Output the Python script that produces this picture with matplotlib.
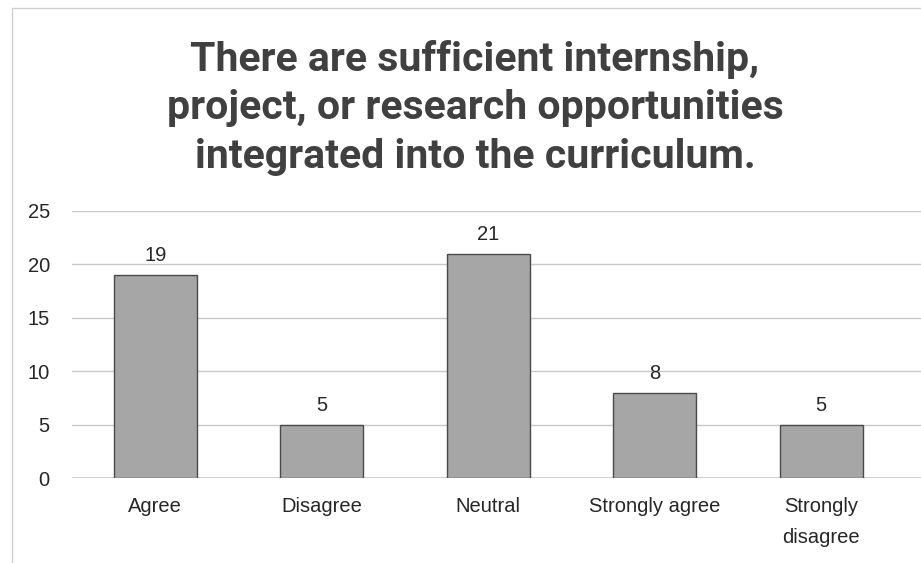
import matplotlib
matplotlib.use('Agg')
import matplotlib.pyplot as plt
from matplotlib.patches import Rectangle

categories = ["Agree", "Disagree", "Neutral", "Strongly agree", "Strongly\ndisagree"]
counts = [19, 5, 21, 8, 5]
yticks = [0, 5, 10, 15, 20, 25]
title = ("There are sufficient internship,\n"
         "project, or research opportunities\n"
         "integrated into the curriculum.")

fig = plt.figure(figsize=(9.21, 5.63), dpi=100)
fig.patch.set_facecolor("white")

# faint outer frame of the chart object
fig.patches.append(Rectangle((12 / 921, -0.1), 1.0, 1.1 - 8 / 563,
                             transform=fig.transFigure, fill=False,
                             edgecolor="#d0d0d0", linewidth=1.0))

ax = fig.add_axes([72 / 921, (563 - 478) / 563, (921 - 72) / 921, (478 - 211) / 563])
x = range(len(categories))
ax.bar(x, counts, width=0.5, color="#a6a6a6", edgecolor="#4a4a4a", linewidth=1.0, zorder=3)
for xi, v in zip(x, counts):
    ax.text(xi, v + 0.9, str(v), ha="center", va="bottom", fontsize=14.5,
            color="#262626", family="Liberation Sans")

ax.set_ylim(0, 25)
ax.set_xlim(-0.5, 4.6)
ax.set_yticks(yticks)
ax.set_xticks(list(x))
ax.set_xticklabels(categories, fontsize=14.5, color="#262626", family="Liberation Sans",
                   linespacing=1.75, va="top")
ax.set_yticklabels([str(t) for t in yticks], fontsize=14.5, color="#262626",
                   family="Liberation Sans")
ax.tick_params(axis="both", length=0)
ax.tick_params(axis="x", pad=14)
ax.tick_params(axis="y", pad=16)
ax.grid(axis="y", color="#c8c8c8", linewidth=1.0, zorder=0)
for s in ax.spines.values():
    s.set_visible(False)
ax.axhline(0, color="#c8c8c8", linewidth=1.2, zorder=2)

fig.text(475 / 921, 1 - 108 / 563, title, ha="center", va="center", fontsize=29.5,
         fontweight="bold", color="#404040", family="Roboto", linespacing=1.34)

plt.savefig("out.png", dpi=100)
